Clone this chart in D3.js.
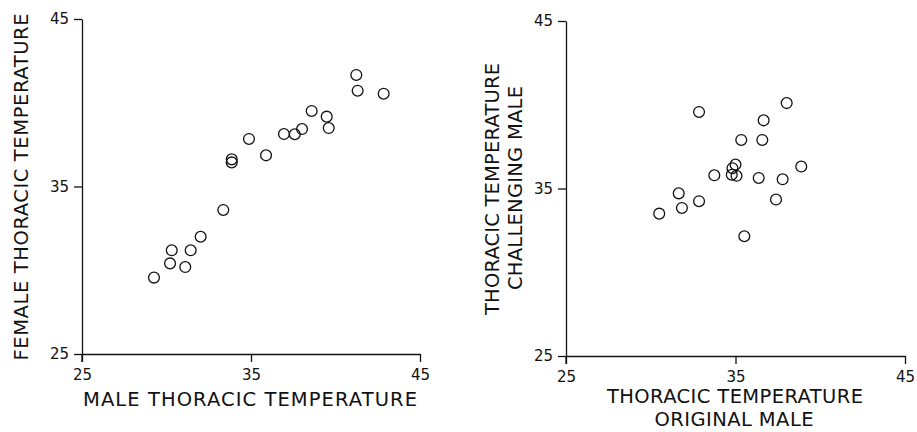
<!DOCTYPE html>
<html>
<head>
<meta charset="utf-8">
<script src="https://cdn.jsdelivr.net/npm/d3@7"></script>
<style>
  html, body { margin: 0; padding: 0; background: #fff; }
  svg { display: block; }
  .axis path, .axis line { stroke: #111; stroke-width: 1.3px; }
  .axis text { font-family: "DejaVu Sans", sans-serif; font-size: 15px; fill: #111; }
  .title { font-family: "DejaVu Sans", sans-serif; font-size: 19.5px; fill: #111; }
</style>
</head>
<body>
<script>
// ---- Data ----
const tickValues = [25, 35, 45];

// Left panel: male vs female thoracic temperature
const maleTemp   = [29.26, 30.21, 30.31, 31.11, 31.43, 32.02, 33.36, 33.86, 33.86, 34.88, 35.89, 36.95, 37.59, 38.02, 38.59, 39.48, 39.60, 41.23, 41.31, 42.85];
const femaleTemp = [29.56, 30.41, 31.19, 30.19, 31.19, 32.00, 33.60, 36.62, 36.44, 37.84, 36.86, 38.13, 38.12, 38.43, 39.51, 39.17, 38.49, 41.66, 40.72, 40.54];

// Right panel: original male vs challenging male
const originalMaleTemp    = [30.50, 31.65, 31.84, 32.85, 32.85, 33.75, 35.00, 34.82, 34.78, 35.06, 35.34, 35.52, 36.37, 36.58, 36.66, 37.39, 37.78, 38.02, 38.88];
const challengingMaleTemp = [33.50, 34.71, 33.84, 39.57, 34.24, 35.79, 36.43, 36.21, 35.82, 35.76, 37.90, 32.15, 35.63, 37.90, 39.07, 34.34, 35.55, 40.10, 36.31];

const leftXTitle  = ["MALE THORACIC TEMPERATURE"];
const leftYTitle  = ["FEMALE THORACIC TEMPERATURE"];
const rightXTitle = ["THORACIC TEMPERATURE", "ORIGINAL MALE"];
const rightYTitle = ["THORACIC TEMPERATURE", "CHALLENGING MALE"];

// ---- Drawing ----
const W = 917, H = 432;
const svg = d3.select("body").append("svg").attr("width", W).attr("height", H);

function panel(cfg) {
  const x = d3.scaleLinear().domain([25, 45]).range(cfg.xr);
  const y = d3.scaleLinear().domain([25, 45]).range(cfg.yr);
  const g = svg.append("g");

  // y axis extends slightly below x axis
  g.append("line").attr("x1", cfg.xr[0]).attr("x2", cfg.xr[0])
    .attr("y1", cfg.yr[0]).attr("y2", cfg.yr[0] + 8)
    .attr("stroke", "#111").attr("stroke-width", 1.3);

  g.append("g").attr("class", "axis")
    .attr("transform", `translate(0,${cfg.yr[0]})`)
    .call(d3.axisBottom(x).tickValues(tickValues).tickSize(8).tickSizeOuter(0).tickPadding(7).tickFormat(d3.format("d")));
  g.append("g").attr("class", "axis")
    .attr("transform", `translate(${cfg.xr[0]},0)`)
    .call(d3.axisLeft(y).tickValues(tickValues).tickSize(8).tickSizeOuter(0).tickPadding(5).tickFormat(d3.format("d")));

  g.selectAll("circle.pt").data(cfg.xs.map((v, i) => [v, cfg.ys[i]]))
    .enter().append("circle").attr("class", "pt")
    .attr("cx", d => x(d[0])).attr("cy", d => y(d[1]))
    .attr("r", 5.4).attr("fill", "none").attr("stroke", "#111").attr("stroke-width", 1.3);

  cfg.xTitle.forEach((t, i) => {
    const s = cfg.xTitlePos[i];
    g.append("text").attr("class", "title").attr("x", s[0]).attr("y", s[1])
      .attr("text-anchor", "middle").attr("textLength", s[2]).attr("lengthAdjust", "spacing").text(t);
  });
  cfg.yTitle.forEach((t, i) => {
    const s = cfg.yTitlePos[i];
    g.append("text").attr("class", "title")
      .attr("transform", `translate(${s[0]},${s[1]}) rotate(-90)`)
      .attr("text-anchor", "middle").attr("textLength", s[2]).attr("lengthAdjust", "spacing").text(t);
  });
}

panel({
  xr: [82, 420], yr: [354, 19],
  xs: maleTemp, ys: femaleTemp,
  xTitle: leftXTitle, xTitlePos: [[250, 406, 334]],
  yTitle: leftYTitle, yTitlePos: [[28, 187, 347]]
});

panel({
  xr: [566, 905], yr: [356, 21],
  xs: originalMaleTemp, ys: challengingMaleTemp,
  xTitle: rightXTitle, xTitlePos: [[735, 403, 256], [734, 426, 159]],
  yTitle: rightYTitle, yTitlePos: [[499, 189, 252], [522, 188, 204]]
});
</script>
</body>
</html>
